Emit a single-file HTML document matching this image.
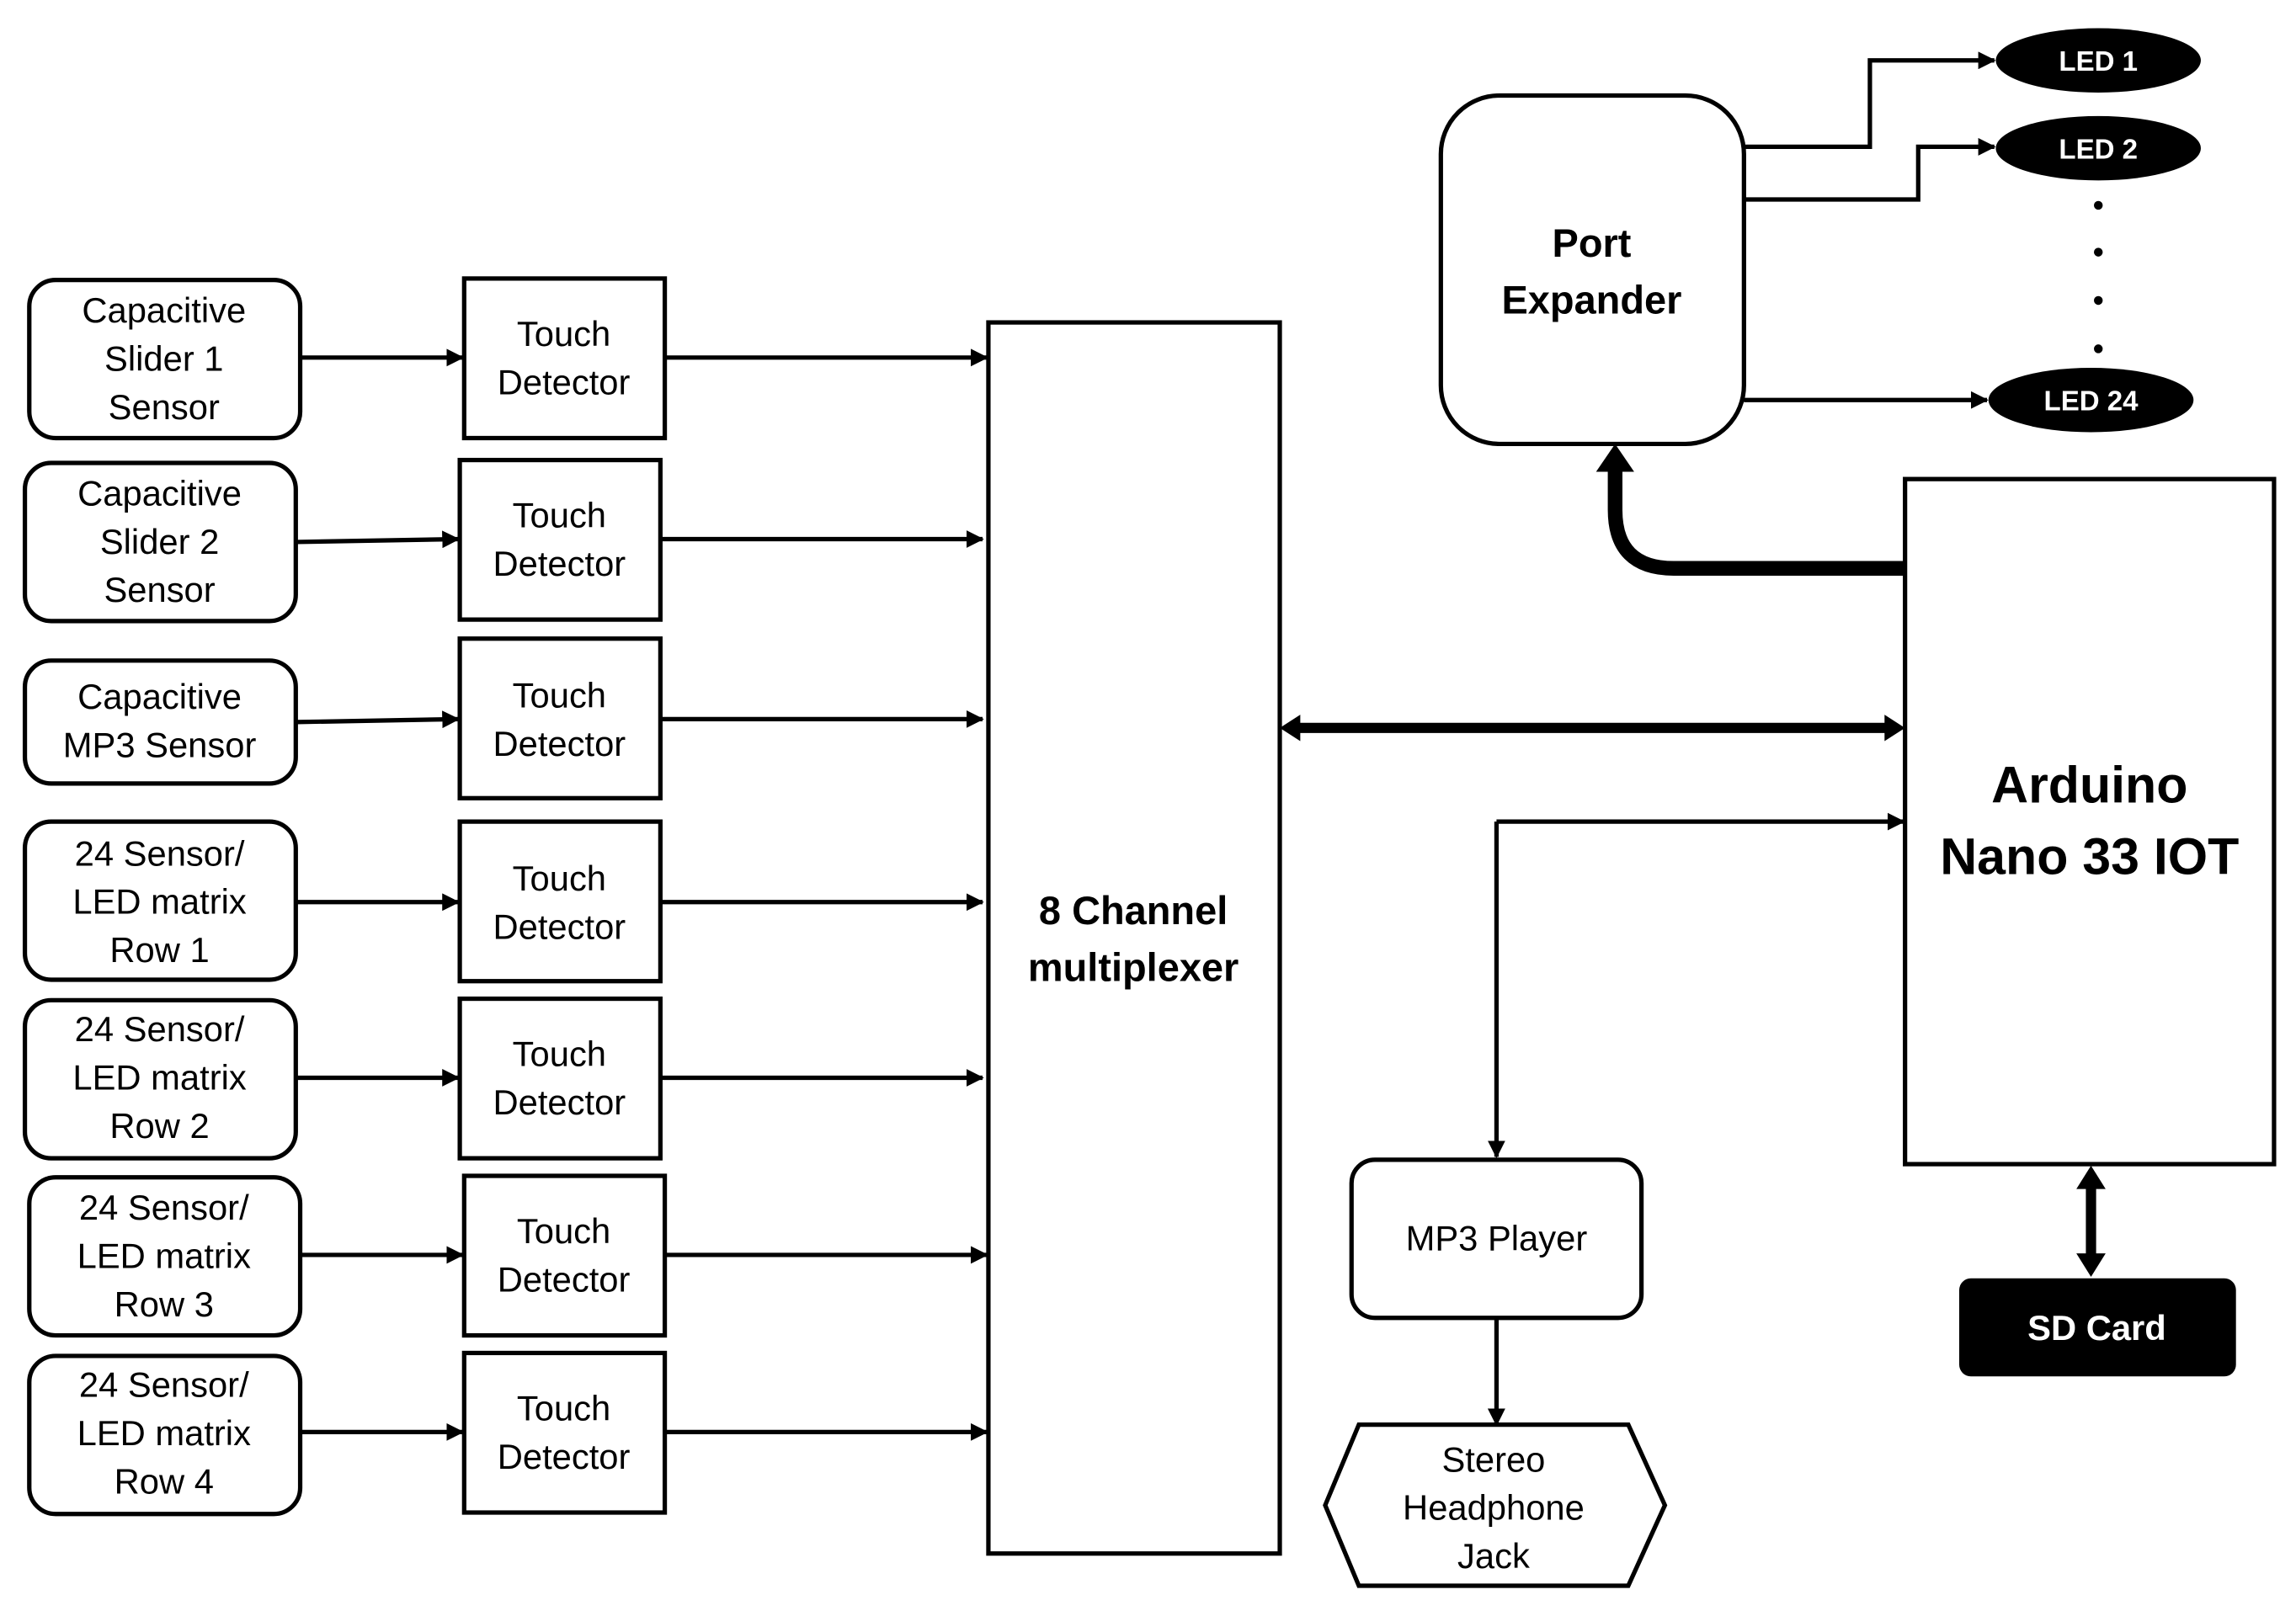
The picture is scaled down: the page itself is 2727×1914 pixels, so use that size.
<!DOCTYPE html>
<html><head><meta charset="utf-8"><style>
html,body{margin:0;padding:0;background:#fff;}
svg{display:block;}
text{font-family:"Liberation Sans",sans-serif;text-anchor:middle;}
</style></head><body>
<svg width="2727" height="1914" viewBox="0 0 1568 1100" xmlns="http://www.w3.org/2000/svg">
<defs>
<marker id="a" markerWidth="12" markerHeight="12" refX="11" refY="6" orient="auto" markerUnits="userSpaceOnUse"><path d="M0,0 L12,6 L0,12 z" fill="#000"/></marker>
</defs>
<g fill="#fff" stroke="#000" stroke-width="3">
<rect x="20" y="191" width="185" height="108" rx="18"/>
<rect x="17" y="316" width="185" height="108" rx="18"/>
<rect x="17" y="451" width="185" height="84" rx="18"/>
<rect x="17" y="561" width="185" height="108" rx="18"/>
<rect x="17" y="683" width="185" height="108" rx="18"/>
<rect x="20" y="804" width="185" height="108" rx="18"/>
<rect x="20" y="926" width="185" height="108" rx="18"/>
<rect x="317" y="190" width="137" height="109"/>
<rect x="314" y="314" width="137" height="109"/>
<rect x="314" y="436" width="137" height="109"/>
<rect x="314" y="561" width="137" height="109"/>
<rect x="314" y="682" width="137" height="109"/>
<rect x="317" y="803" width="137" height="109"/>
<rect x="317" y="924" width="137" height="109"/>
<rect x="675" y="220" width="199" height="841"/>
<rect x="984" y="65" width="207" height="238" rx="40"/>
<rect x="1301" y="327" width="252" height="468"/>
<rect x="923" y="792" width="198" height="108" rx="16"/>
<path d="M928,973 L1112,973 L1137,1028 L1112,1083 L928,1083 L905,1028 Z"/>
</g>
<rect x="1338" y="873" width="189" height="67" rx="8" fill="#000"/>
<g fill="#000"><ellipse cx="1433" cy="41" rx="70" ry="22"/><ellipse cx="1433" cy="101" rx="70" ry="22"/><ellipse cx="1428" cy="273" rx="70" ry="22"/>
<circle cx="1433" cy="140" r="3"/><circle cx="1433" cy="172" r="3"/><circle cx="1433" cy="205" r="3"/><circle cx="1433" cy="238" r="3"/></g>
<g stroke="#000" stroke-width="3" fill="none" marker-end="url(#a)">
<path d="M205,244 L316,244"/><path d="M454,244 L674,244"/>
<path d="M202,370 L313,368"/><path d="M451,368 L671,368"/>
<path d="M202,493 L313,491"/><path d="M451,491 L671,491"/>
<path d="M202,616 L313,616"/><path d="M451,616 L671,616"/>
<path d="M202,736 L313,736"/><path d="M451,736 L671,736"/>
<path d="M205,857 L316,857"/><path d="M454,857 L674,857"/>
<path d="M205,978 L316,978"/><path d="M454,978 L674,978"/>
<path d="M1191,100 L1277,100 L1277,41 L1362,41"/>
<path d="M1191,136 L1310,136 L1310,100 L1362,100"/>
<path d="M1191,273 L1357,273"/>
<path d="M1022,900 L1022,973"/>
<path d="M1022,561 L1300,561"/>
<path d="M1022,561 L1022,790"/>
</g>
<path d="M1301,388 L1143,388 Q1103,388 1103,348 L1103,318" stroke="#000" stroke-width="10" fill="none"/>
<path d="M1090,322 L1103,303 L1116,322 z" fill="#000"/>
<path d="M884,497 L1291,497" stroke="#000" stroke-width="7"/>
<path d="M874,497 L888,488 L888,506 z M1301,497 L1287,488 L1287,506 z" fill="#000"/>
<path d="M1428,808 L1428,860" stroke="#000" stroke-width="7"/>
<path d="M1428,796 L1418,812 L1438,812 z M1428,872 L1418,856 L1438,856 z" fill="#000"/>
<g font-size="24" fill="#000">
<text x="112" y="220">Capacitive</text><text x="112" y="253">Slider 1</text><text x="112" y="286">Sensor</text>
<text x="109" y="345">Capacitive</text><text x="109" y="378">Slider 2</text><text x="109" y="411">Sensor</text>
<text x="109" y="484">Capacitive</text><text x="109" y="517">MP3 Sensor</text>
<text x="109" y="591">24 Sensor/</text><text x="109" y="624">LED matrix</text><text x="109" y="657">Row 1</text>
<text x="109" y="711">24 Sensor/</text><text x="109" y="744">LED matrix</text><text x="109" y="777">Row 2</text>
<text x="112" y="833">24 Sensor/</text><text x="112" y="866">LED matrix</text><text x="112" y="899">Row 3</text>
<text x="112" y="954">24 Sensor/</text><text x="112" y="987">LED matrix</text><text x="112" y="1020">Row 4</text>
<text x="385" y="236">Touch</text><text x="385" y="269">Detector</text>
<text x="382" y="360">Touch</text><text x="382" y="393">Detector</text>
<text x="382" y="483">Touch</text><text x="382" y="516">Detector</text>
<text x="382" y="608">Touch</text><text x="382" y="641">Detector</text>
<text x="382" y="728">Touch</text><text x="382" y="761">Detector</text>
<text x="385" y="849">Touch</text><text x="385" y="882">Detector</text>
<text x="385" y="970">Touch</text><text x="385" y="1003">Detector</text>
<text x="1022" y="854">MP3 Player</text>
<text x="1020" y="1005">Stereo</text><text x="1020" y="1038">Headphone</text><text x="1020" y="1071">Jack</text>
</g>
<g font-weight="bold" fill="#000">
<text x="774" y="631" font-size="27">8 Channel</text><text x="774" y="670" font-size="27">multiplexer</text>
<text x="1087" y="175" font-size="27">Port</text><text x="1087" y="214" font-size="27">Expander</text>
<text x="1427" y="548" font-size="35">Arduino</text><text x="1427" y="597" font-size="35">Nano 33 IOT</text>
</g>
<g font-weight="bold" fill="#fff">
<text x="1433" y="48" font-size="19">LED 1</text><text x="1433" y="108" font-size="19">LED 2</text><text x="1428" y="280" font-size="19">LED 24</text>
<text x="1432" y="915" font-size="24">SD Card</text>
</g>
</svg>
</body></html>
